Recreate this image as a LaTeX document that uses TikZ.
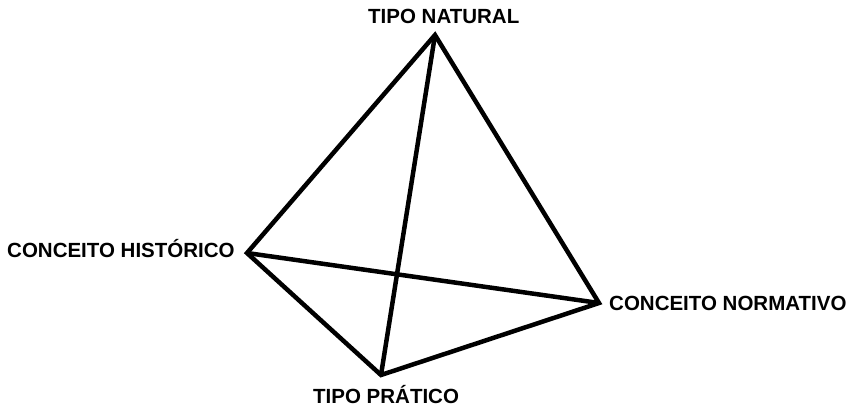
\documentclass[tikz,border=0pt]{standalone}
\usepackage{fontspec}
\setmainfont{Liberation Sans}
\begin{document}
\begin{tikzpicture}[x=1pt,y=-1pt,
  edge/.style={line width=4.5pt,line join=miter,line cap=butt},
  lbl/.style={inner sep=0pt,font=\fontsize{20.5}{24}\selectfont\bfseries}]
\useasboundingbox (0,0) rectangle (854,408);
\coordinate (tn) at (435,35);
\coordinate (ch) at (247,253);
\coordinate (cn) at (599,303);
\coordinate (tp) at (381,375);
\draw[edge] (tn) -- (ch) -- (tp) -- (cn) -- cycle;
\draw[edge] (tn) -- (tp);
\draw[edge] (ch) -- (cn);
\node[lbl,anchor=base west] (ltn) at (368,23.5) {TIPO NATURAL};
\node[lbl,anchor=base west] (lch) at (7,257.5) {CONCEITO HISTÓRICO};
\node[lbl,anchor=base west] (lcn) at (609,310.5) {CONCEITO NORMATIVO};
\node[lbl,anchor=base west] (ltp) at (313,403) {TIPO PRÁTICO};
\end{tikzpicture}
\end{document}
